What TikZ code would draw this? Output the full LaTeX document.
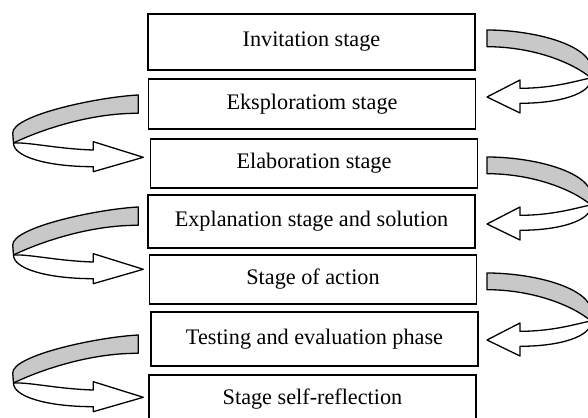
\documentclass[tikz,border=0pt]{standalone}
\usepackage{fontspec}
\setmainfont{Liberation Serif}
\definecolor{bandgrey}{RGB}{200,200,200}
\tikzset{
  stagebox/.style={draw, line width=0.9pt, fill=white, minimum width=176.6pt, inner sep=0pt, font=\fontsize{12}{14}\selectfont},
  loopline/.style={line width=0.7pt, line join=round},
}
\begin{document}
\begin{tikzpicture}[x=0.54pt, y=-0.54pt]
\useasboundingbox (0,0) rectangle (588,418);

% Stage boxes, top to bottom
\node[stagebox, minimum height=30.2pt] (b1) at (311.5,42) {Invitation stage};
\node[stagebox, minimum height=27pt] (b2) at (312,104) {Eksploratiom stage};
\node[stagebox, minimum height=26.5pt] (b3) at (314,163.5) {Elaboration stage};
\node[stagebox, minimum height=28.6pt] (b4) at (311.5,221.5) {Explanation stage and solution};
\node[stagebox, minimum height=26.5pt] (b5) at (313,279.5) {Stage of action};
\node[stagebox, minimum height=29.2pt] (b6) at (314.5,339) {Testing and evaluation phase};
\node[stagebox, minimum height=26.5pt] (b7) at (312.5,399.5) {Stage self-reflection};

% Loop arrows on the right side
\foreach \y in {30,157,273} {
  \begin{scope}[shift={(487,\y)}]
    \draw[loopline, fill=bandgrey] (0,0) .. controls (45,0) and (104,14) .. (105,40) -- (104,48) .. controls (85,32) and (45,16.7) .. (0,16.7) -- cycle;
    \draw[loopline, fill=white] (104,48) .. controls (105,64) and (72,73.3) .. (33,73.3) -- (33,83) -- (0,67) -- (33,50) -- (33,58.3) .. controls (68,58.3) and (92,50) .. (104,48) -- cycle;
  \end{scope}
}

% Loop arrows on the left side (mirrored)
\foreach \y in {95,207,335} {
  \begin{scope}[shift={(138.3,\y)}, xscale=-1]
    \draw[loopline, fill=bandgrey] (0,0) .. controls (40,2) and (125.6,20) .. (125.6,38) -- (124.8,48) .. controls (100,36) and (50,18) .. (0,18.3) -- cycle;
    \draw[loopline, fill=white] (124.8,48) .. controls (125,62) and (90,71.7) .. (45,71.7) -- (45,76.7) -- (-5,62.3) -- (45,46.7) -- (45,55) .. controls (80,54) and (110,47) .. (124.8,48) -- cycle;
  \end{scope}
}

\end{tikzpicture}
\end{document}
